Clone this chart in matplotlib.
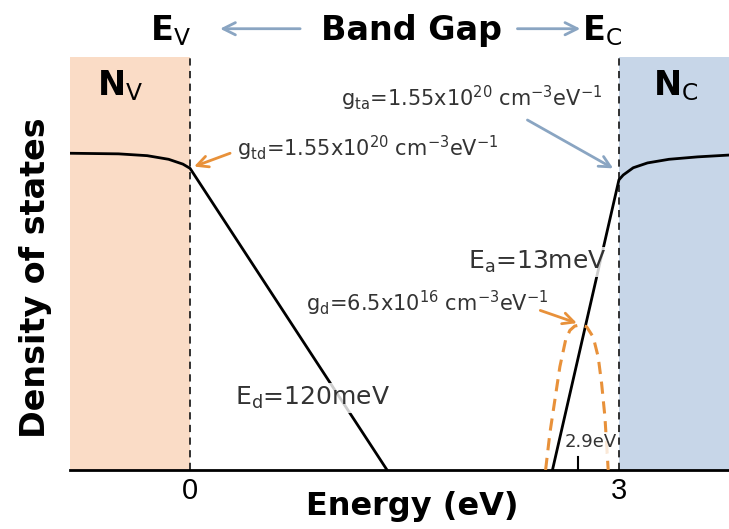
import numpy as np
import matplotlib as mpl
import matplotlib.pyplot as plt

mpl.rcParams['font.family'] = 'DejaVu Sans'
mpl.rcParams['mathtext.fontset'] = 'dejavusans'

# energies in eV, densities as log10(g) (schematic)
e_min, e_max = -0.84, 3.77
ev, ec = 0.0, 3.0

val_e = [-0.84, -0.5, -0.3, -0.15, -0.05, 0.0, 1.378]
val_g = [20.44, 20.43, 20.40, 20.34, 20.26, 20.19, 15.2]

con_e = [2.535, 3.0, 3.03, 3.1, 3.2, 3.35, 3.55, 3.77]
con_g = [15.2, 20.0, 20.08, 20.2, 20.28, 20.34, 20.38, 20.41]

don_e = [2.487, 2.517, 2.552, 2.587, 2.627, 2.657, 2.69, 2.727,
         2.774, 2.820, 2.855, 2.879, 2.902, 2.925]
don_g = [15.2, 15.81, 16.36, 16.91, 17.35, 17.51, 17.58, 17.60,
         17.57, 17.40, 17.07, 16.63, 16.08, 15.2]

g_min, g_max = 15.2, 22.03

orange = '#E8913A'
steel = '#8AA5C2'
txt = '#333333'

fig = plt.figure(figsize=(7.29, 5.29), dpi=100)
ax = fig.add_axes([0.096, 0.1115, 0.904, 0.7805])

ax.axvspan(e_min, ev, color='#FADCC6', lw=0, zorder=0)
ax.axvspan(ec, e_max, color='#C7D6E8', lw=0, zorder=0)
ax.plot([ev, ev], [g_min, g_max], color='#222222', ls=(0, (4, 3)), lw=1.3, zorder=1)
ax.plot([ec, ec], [g_min, g_max], color='#222222', ls=(0, (4, 3)), lw=1.3, zorder=1)

ax.plot(val_e, val_g, color='black', lw=2, zorder=2)
ax.plot(con_e, con_g, color='black', lw=2, zorder=2)
ax.plot(don_e, don_g, color=orange, lw=2.2, ls=(0, (4, 2.5)), zorder=3)

# 2.9 eV marker
ax.plot([2.713, 2.713], [g_min, g_min + 0.22], color='black', lw=1.5, zorder=2)

ax.set_xlim(e_min, e_max)
ax.set_ylim(g_min, g_max)
for s in ['top', 'right', 'left']:
    ax.spines[s].set_visible(False)
ax.spines['bottom'].set_linewidth(2)
ax.set_yticks([])
ax.set_xticks([0, 3])
ax.set_xticklabels(['0', '3'], fontfamily='Liberation Sans')
ax.tick_params(axis='x', length=0, labelsize=21, pad=5)
ax.set_xlabel('Energy (eV)', fontsize=23, fontweight='bold')
ax.xaxis.set_label_coords(0.52, -0.052)
ax.set_ylabel('Density of states', fontsize=24, fontweight='bold')
ax.yaxis.set_label_coords(-0.028, 0.465)

# header
ax.text(-0.14, 22.47, r'E$_\mathrm{V}$', fontsize=24, fontweight='bold',
        ha='center', va='center', clip_on=False)
ax.text(1.552, 22.47, 'Band Gap', fontsize=24, fontweight='bold',
        ha='center', va='center', clip_on=False)
ax.text(2.88, 22.47, r'E$_\mathrm{C}$', fontsize=24, fontweight='bold',
        ha='center', va='center', clip_on=False)
ax.annotate('', xy=(0.21, 22.5), xytext=(0.77, 22.5), annotation_clip=False,
            arrowprops=dict(arrowstyle='->', color=steel, lw=2, mutation_scale=22,
                            shrinkA=0, shrinkB=0))
ax.annotate('', xy=(2.73, 22.5), xytext=(2.29, 22.5), annotation_clip=False,
            arrowprops=dict(arrowstyle='->', color=steel, lw=2, mutation_scale=22,
                            shrinkA=0, shrinkB=0))

ax.text(-0.49, 21.56, r'N$_\mathrm{V}$', fontsize=24, fontweight='bold', ha='center', va='center')
ax.text(3.40, 21.56, r'N$_\mathrm{C}$', fontsize=24, fontweight='bold', ha='center', va='center')

# annotations
ax.text(1.97, 21.35, r'g$_\mathrm{ta}$=1.55x10$^{20}$ cm$^{-3}$eV$^{-1}$', fontsize=15,
        ha='center', va='center', color=txt)
ax.annotate('', xy=(2.96, 20.19), xytext=(2.36, 20.99),
            arrowprops=dict(arrowstyle='->', color=steel, lw=2, mutation_scale=20,
                            shrinkA=0, shrinkB=0))
ax.text(1.245, 20.52, r'g$_\mathrm{td}$=1.55x10$^{20}$ cm$^{-3}$eV$^{-1}$', fontsize=15,
        ha='center', va='center', color=txt)
ax.annotate('', xy=(0.028, 20.22), xytext=(0.28, 20.44),
            arrowprops=dict(arrowstyle='->', color=orange, lw=2, mutation_scale=20,
                            shrinkA=0, shrinkB=0))
ax.text(1.66, 17.96, r'g$_\mathrm{d}$=6.5x10$^{16}$ cm$^{-3}$eV$^{-1}$', fontsize=15,
        ha='center', va='center', color=txt)
ax.annotate('', xy=(2.706, 17.63), xytext=(2.45, 17.84),
            arrowprops=dict(arrowstyle='->', color=orange, lw=2, mutation_scale=20,
                            shrinkA=0, shrinkB=0))

box = dict(facecolor='white', edgecolor='none', alpha=0.8, pad=1)
ax.text(2.43, 18.64, r'E$_\mathrm{a}$=13meV', fontsize=18, ha='center', va='center',
        color=txt, bbox=box, zorder=4)
ax.text(0.86, 16.39, r'E$_\mathrm{d}$=120meV', fontsize=18, ha='center', va='center',
        color=txt, bbox=box, zorder=4)
ax.text(2.80, 15.66, '2.9eV', fontsize=13, ha='center', va='center',
        color=txt, bbox=box, zorder=4)

fig.savefig('out.png', dpi=100)
